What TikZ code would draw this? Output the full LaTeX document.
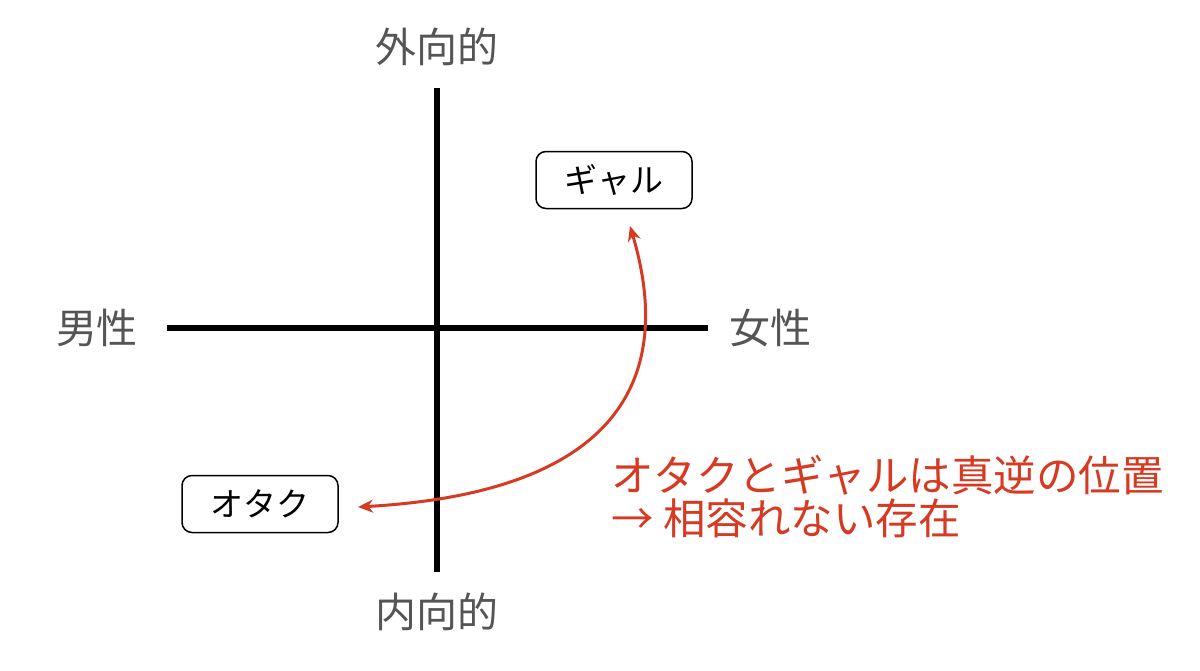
\documentclass[tikz,border=0pt]{standalone}
\usepackage{fontspec}
\newfontfamily\jp{Noto Sans CJK JP}
\usetikzlibrary{arrows.meta}
\definecolor{axgray}{HTML}{555555}
\definecolor{accred}{HTML}{D63A22}
\tikzset{
  axis/.style={line width=6pt, black},
  axlabel/.style={font=\jp\fontsize{41}{45}\selectfont, text=axgray, inner sep=0pt},
  catbox/.style={draw, line width=1.5pt, rounded corners=10pt, minimum width=156pt, minimum height=57pt, font=\jp\fontsize{33}{36}\selectfont, inner sep=0pt},
  link/.style={accred, line width=3pt, {Stealth[length=15pt,width=13pt]}-{Stealth[length=15pt,width=13pt]}},
  note/.style={font=\jp\fontsize{42.5}{46}\selectfont, text=accred, inner sep=0pt, anchor=west}
}
\begin{document}
\begin{tikzpicture}[x=1pt,y=-1pt]
\useasboundingbox (0,0) rectangle (1200,670);
\coordinate (vt) at (437,88);
\coordinate (vb) at (437,572);
\coordinate (hl) at (167,328);
\coordinate (hr) at (708,328);
\draw[axis] (vt) -- (vb);
\draw[axis] (hl) -- (hr);
\node[axlabel] (ext) at (437,47) {外向的};
\node[axlabel] (int) at (437,612) {内向的};
\node[axlabel] (male) at (97,328) {男性};
\node[axlabel] (fem) at (770,328) {女性};
\node[catbox] (gal) at (614,180) {ギャル};
\node[catbox] (otaku) at (260,504) {オタク};
\coordinate (gt) at (630,226);
\coordinate (ot) at (358,507);
\draw[link] (gt) .. controls (664,340) and (660,490) .. (ot);
\node[note] (n1) at (611,475) {オタクとギャルは真逆の位置};
\node[note] (n2) at (611,518) {→ 相容れない存在};
\end{tikzpicture}
\end{document}
